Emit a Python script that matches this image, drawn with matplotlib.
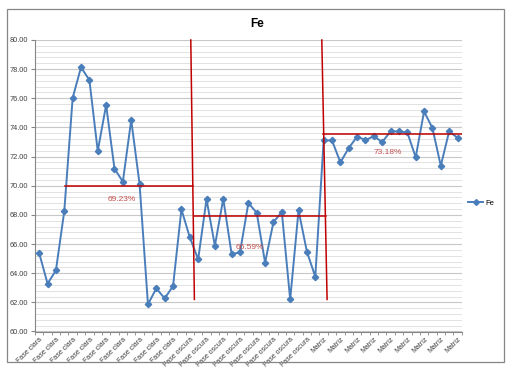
import matplotlib
matplotlib.use("Agg")
import matplotlib.pyplot as plt
from matplotlib.patches import Rectangle
from matplotlib.ticker import MultipleLocator, FixedLocator
from matplotlib.lines import Line2D

plt.rcParams['font.family'] = ['Liberation Sans', 'DejaVu Sans']

# ---- data ----
categories = ["Fase clara"] * 18 + ["Fase oscura"] * 16 + ["Matriz"] * 17
fe = [65.38, 63.28, 64.19, 68.26, 76.02, 78.13, 77.25, 72.38, 75.54, 71.17,
      70.28, 74.51, 70.10, 61.86, 62.96, 62.27, 63.12, 68.38,
      66.46, 64.95, 69.07, 65.88, 69.11, 65.31, 65.43, 68.81, 68.15, 64.72,
      67.51, 68.19, 62.20, 68.31, 65.47, 63.76,
      73.11, 73.11, 71.60, 72.59, 73.37, 73.14, 73.39, 73.00, 73.73, 73.73,
      73.66, 71.95, 75.10, 73.96, 71.37, 73.73, 73.29]

# mean level annotations (hand-drawn lines in the original)
mean_levels = [70.0, 67.9, 73.53]
mean_x_start = [3.1, 18.5, 33.9]
mean_x_end = [18.36, 34.29, 50.5]
mean_labels = ["69.23%", "66.59%", "73.18%"]
mean_label_x = [9.88, 25.2, 41.67]
mean_label_y = [69.09, 65.74, 72.31]

# divider lines (x at top, x at bottom)
div_x_top = [18.12, 33.78]
div_x_bot = [18.55, 34.41]
div_y_top = 80.0
div_y_bot = 62.2

# ---- figure ----
fig = plt.figure(figsize=(5.11, 3.84), dpi=100)
fig.patch.set_facecolor('white')
fig.patches.append(Rectangle((6.5 / 511, 1 - 362 / 384), (503.5 - 6.5) / 511, (362 - 9) / 384,
                             transform=fig.transFigure, fill=False,
                             edgecolor='#868686', linewidth=0.9))

ax = fig.add_axes([35 / 511, 1 - 331.5 / 384, (461.7 - 35) / 511, (331.5 - 40) / 384])

x = list(range(len(fe)))
ax.plot(x, fe, color='#4A7EBB', linewidth=1.4, marker='D', markersize=3.2,
        markerfacecolor='#4A7EBB', markeredgecolor='#4A7EBB', zorder=4, label='Fe')

red = '#C00000'
for xs, xe, lv in zip(mean_x_start, mean_x_end, mean_levels):
    ax.plot([xs, xe], [lv, lv], color=red, linewidth=1.1, zorder=5)
for xt, xb in zip(div_x_top, div_x_bot):
    ax.plot([xt, xb], [div_y_top, div_y_bot], color=red, linewidth=1.1, zorder=5,
            clip_on=False)
for lx, ly, lt in zip(mean_label_x, mean_label_y, mean_labels):
    ax.text(lx, ly, lt, color='#C0504D', fontsize=6, ha='center', va='center', zorder=6)

ax.set_xlim(-0.5, len(fe) - 0.5)
ax.set_ylim(60, 80)

# y axis
ax.yaxis.set_major_locator(MultipleLocator(2))
ax.yaxis.set_minor_locator(MultipleLocator(0.4))
ax.set_yticklabels([f"{v:.2f}" for v in ax.get_yticks()])
ax.tick_params(axis='y', which='major', labelsize=5.3, length=3, color='#868686',
               labelcolor='#404040', pad=2)
ax.tick_params(axis='y', which='minor', length=0)
ax.grid(axis='y', which='major', color='#C8C8C8', linewidth=0.8)
ax.grid(axis='y', which='minor', color='#E2E2E2', linewidth=0.7)
ax.set_axisbelow(True)

# x axis
ax.xaxis.set_major_locator(FixedLocator(x[::2]))
ax.set_xticklabels(categories[::2], rotation=45, ha='right', rotation_mode='anchor',
                   fontsize=5, color='#404040')
ax.xaxis.set_minor_locator(FixedLocator([i - 0.5 for i in range(len(fe) + 1)]))
ax.tick_params(axis='x', which='major', length=0, pad=3)
ax.tick_params(axis='x', which='minor', length=2.5, color='#868686')

for s in ['top', 'right']:
    ax.spines[s].set_visible(False)
for s in ['left', 'bottom']:
    ax.spines[s].set_color('#868686')
    ax.spines[s].set_linewidth(0.8)

fig.text(257 / 511, 1 - 24 / 384, "Fe", fontsize=8.5, fontweight='bold',
         ha='center', va='center', color='black')

handle = Line2D([], [], color='#4A7EBB', linewidth=1.4, marker='D', markersize=3)
fig.legend([handle], ['Fe'], loc='center left', bbox_to_anchor=(468 / 511, 1 - 203 / 384),
           frameon=False, fontsize=5.5, handlelength=2.0, handletextpad=0.3,
           borderaxespad=0, borderpad=0)

fig.savefig("out.png", dpi=100)
